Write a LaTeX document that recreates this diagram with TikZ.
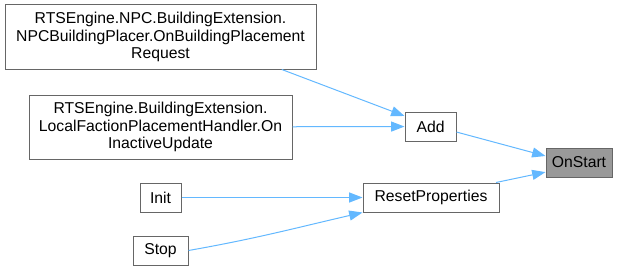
\documentclass[tikz,border=0pt]{standalone}
\usepackage{fontspec}
\setmainfont{Liberation Sans}
\usetikzlibrary{arrows.meta}
\definecolor{CgEdge}{RGB}{99,184,255}
\definecolor{CgBorder}{RGB}{102,102,102}
\definecolor{CgCurrent}{RGB}{153,153,153}
\tikzset{
  cg/box/.style={
    draw=CgBorder,
    line width=0.75pt,
    fill=white,
    align=center,
    inner sep=0pt,
    font=\fontsize{11.8}{13.1}\selectfont
  },
  cg/current/.style={cg/box, fill=CgCurrent},
  cg/edge/.style={-{Triangle[length=10pt,width=7.5pt]}, line width=0.75pt, draw=CgEdge}
}

\begin{document}
\begin{tikzpicture}[x=0.75pt,y=-0.75pt]
  \useasboundingbox (0,0) rectangle (627,271);
  % callers, left column
  \node[cg/box,minimum width=233.25pt,minimum height=48pt] (npcplacer) at (160.5,37)
    {RTSEngine.NPC.BuildingExtension.\\NPCBuildingPlacer.OnBuildingPlacement\\Request};
  \node[cg/box,minimum width=197.25pt,minimum height=48pt] (localhandler) at (160.5,127)
    {RTSEngine.BuildingExtension.\\LocalFactionPlacementHandler.On\\InactiveUpdate};
  \node[cg/box,minimum width=30.75pt,minimum height=21.75pt] (init) at (160.5,197.5) {Init};
  \node[cg/box,minimum width=41.25pt,minimum height=21.75pt] (stop) at (160.5,250.5) {Stop};
  % middle column
  \node[cg/box,minimum width=38.25pt,minimum height=21.75pt] (add) at (430.5,126.5) {Add};
  \node[cg/box,minimum width=102pt,minimum height=21.75pt] (reset) at (431,197.5) {ResetProperties};
  % the function itself
  \node[cg/current,minimum width=49.5pt,minimum height=21.75pt] (onstart) at (579,162.5) {OnStart};

  \foreach \src/\dst in {npcplacer.-15/add.158, localhandler/add, add.-12/onstart.169,
                         reset.13/onstart.196, init/reset}{
    \draw[cg/edge] (\src) -- (\dst);
  }
  \draw[cg/edge] (stop.east) to[out=10,in=193] (reset.south west);
\end{tikzpicture}
\end{document}
